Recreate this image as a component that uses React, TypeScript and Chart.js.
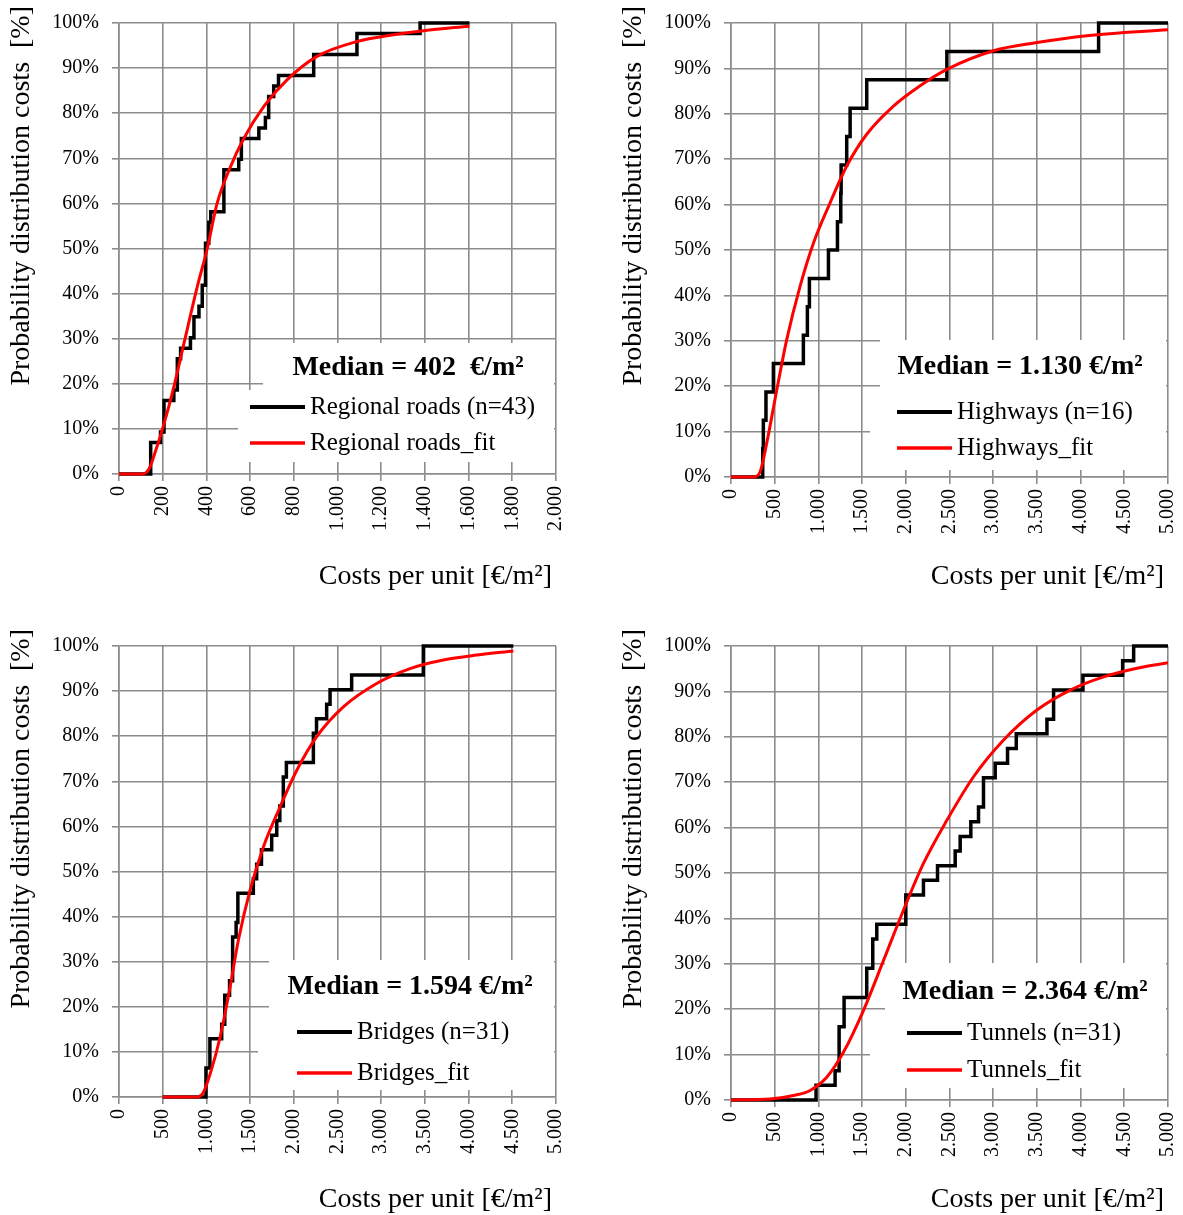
import React, { useEffect, useRef } from "react";
import { Chart, registerables } from "chart.js";

Chart.register(...registerables);

// ---------- Data ----------
// Regional roads (empirical steps)
const roadsCost = [0, 145, 190, 206, 251, 267, 282, 327, 343, 366, 381, 396, 411, 420, 480, 548, 560, 640, 670, 685, 708, 730, 891, 1089, 1378, 1604];
const roadsCum = [0, 6.98, 9.3, 16.28, 18.6, 25.58, 27.9, 30.23, 34.88, 37.2, 41.86, 51.16, 55.8, 58.14, 67.44, 69.77, 74.4, 76.7, 79.07, 83.7, 86.05, 88.37, 93.02, 97.67, 100, 100];
const roadsFitCost = [0, 107, 137, 168, 206, 251, 297, 358, 404, 449, 510, 571, 663, 769, 906, 1089, 1257, 1394, 1604];
const roadsFitCum = [0, 0, 1.1, 5.2, 11.1, 19.3, 28.9, 41.5, 50, 60, 68.1, 74.4, 81.5, 87.4, 92.6, 95.9, 97.4, 98.3, 99.3];

// Highways
const hwyCost = [0, 363, 370, 400, 485, 828, 874, 897, 1115, 1218, 1256, 1260, 1324, 1363, 1553, 2470, 4206, 5000];
const hwyCum = [0, 6.25, 12.5, 18.75, 25, 31.25, 37.5, 43.75, 50, 56.25, 62.5, 68.75, 75, 81.25, 87.5, 93.75, 100, 100];
const hwyFitCost = [0, 256, 332, 408, 523, 637, 790, 943, 1134, 1324, 1553, 1859, 2164, 2470, 3004, 3500, 4073, 5000];
const hwyFitCum = [0, 0, 1.1, 7.4, 19.1, 30.2, 42, 51.5, 60.4, 68.5, 75.5, 81.7, 86.2, 89.8, 93.9, 95.7, 97.2, 98.5];

// Bridges
const brCost = [500, 995, 1040, 1175, 1210, 1265, 1300, 1340, 1360, 1537, 1575, 1630, 1747, 1805, 1840, 1880, 1915, 2224, 2260, 2376, 2415, 2662, 3482, 4512];
const brCum = [0, 6.45, 12.9, 16.13, 22.58, 25.8, 35.48, 38.7, 45.16, 48.39, 51.6, 54.84, 58.06, 61.29, 64.5, 70.97, 74.19, 80.65, 83.87, 87.1, 90.32, 93.55, 100, 100];
const brFitCost = [500, 889, 965, 1041, 1156, 1270, 1365, 1499, 1651, 1842, 2033, 2262, 2567, 2948, 3330, 3711, 4092, 4512];
const brFitCum = [0, 0, 1, 5, 13.2, 24.3, 34.7, 45.8, 55.4, 64.3, 72.4, 79.9, 86.5, 91.7, 95, 96.9, 98, 98.9];

// Tunnels
const tunCost = [0, 973, 1191, 1237, 1294, 1553, 1622, 1668, 2000, 2202, 2363, 2565, 2622, 2744, 2832, 2889, 3023, 3164, 3264, 3615, 3691, 4027, 4481, 4607, 5000];
const tunCum = [0, 3.23, 6.45, 16.13, 22.58, 29.03, 35.48, 38.71, 45.16, 48.39, 51.61, 54.84, 58.06, 61.29, 64.52, 70.97, 74.19, 77.42, 80.65, 83.87, 90.32, 93.55, 96.77, 100, 100];
const tunFitCost = [0, 447, 714, 905, 1095, 1286, 1515, 1744, 1973, 2202, 2470, 2775, 3119, 3500, 3882, 4264, 4645, 5000];
const tunFitCum = [0, 0.2, 1, 2.1, 5, 10.5, 19.7, 30.7, 41.8, 52.1, 61.6, 71.2, 79.3, 85.9, 90.3, 93.2, 95.1, 96.3];

const medians = ["Median = 402  €/m²", "Median = 1.130 €/m²", "Median = 1.594 €/m²", "Median = 2.364 €/m²"];
const seriesNames = ["Regional roads (n=43)", "Highways (n=16)", "Bridges (n=31)", "Tunnels (n=31)"];
const fitNames = ["Regional roads_fit", "Highways_fit", "Bridges_fit", "Tunnels_fit"];
const xMaxes = [2000, 5000, 5000, 5000];
const xSteps = [200, 500, 500, 500];

const yTitle = "Probability distribution costs  [%]";
const xTitle = "Costs per unit [€/m²]";

// ---------- Styling ----------
const FONT = '"Liberation Serif", "Times New Roman", Times, serif';
const GRID = "#8c8c8c";

type Panel = {
  left: number; top: number; w: number; h: number; bottom: number;
  boxes: number[][];
  medX: number; medY: number;
  lx1: number; lx2: number; tx: number; rows: number[];
};

const panels: Panel[] = [
  { left: 0, top: 0, w: 571, h: 607, bottom: 474, boxes: [[263, 343, 554, 400], [238, 390, 554, 462]], medX: 408, medY: 368, lx1: 250, lx2: 305, tx: 310, rows: [407, 443] },
  { left: 612, top: 0, w: 571, h: 607, bottom: 477, boxes: [[268, 340, 554, 392], [258, 388, 554, 470]], medX: 408, medY: 367, lx1: 285, lx2: 340, tx: 345, rows: [412, 448] },
  { left: 0, top: 623, w: 571, h: 592, bottom: 474, boxes: [[269, 337, 554, 430], [258, 392, 554, 467]], medX: 410, medY: 364, lx1: 297, lx2: 352, tx: 357, rows: [409, 450] },
  { left: 612, top: 623, w: 571, h: 592, bottom: 477, boxes: [[273, 340, 554, 431], [258, 392, 554, 465]], medX: 413, medY: 369, lx1: 295, lx2: 350, tx: 355, rows: [410, 447] },
];

const stepData = [
  [roadsCost, roadsCum], [hwyCost, hwyCum], [brCost, brCum], [tunCost, tunCum],
];
const fitData = [
  [roadsFitCost, roadsFitCum], [hwyFitCost, hwyFitCum], [brFitCost, brFitCum], [tunFitCost, tunFitCum],
];

function fmt(v: number): string {
  return String(v).replace(/\B(?=(\d{3})+(?!\d))/g, ".");
}

function toPts(xs: number[], ys: number[]) {
  return xs.map((x, i) => ({ x, y: ys[i] }));
}

function ChartPanel({ idx }: { idx: number }) {
  const ref = useRef<HTMLCanvasElement | null>(null);
  const p = panels[idx];

  useEffect(() => {
    if (!ref.current) return;
    const overlay = {
      id: "overlay" + idx,
      beforeDatasetsDraw(chart: any) {
        const ctx = chart.ctx;
        ctx.save();
        ctx.fillStyle = "#ffffff";
        for (const r of p.boxes) ctx.fillRect(r[0], r[1], r[2] - r[0], r[3] - r[1]);
        ctx.restore();
      },
      afterDraw(chart: any) {
        const ctx = chart.ctx;
        ctx.save();
        ctx.fillStyle = "#000";
        // Median
        ctx.font = `bold 28px ${FONT}`;
        ctx.textAlign = "center";
        ctx.textBaseline = "middle";
        ctx.fillText(medians[idx], p.medX, p.medY);
        // legend
        ctx.lineCap = "butt";
        ctx.strokeStyle = "#000";
        ctx.lineWidth = 4;
        ctx.beginPath();
        ctx.moveTo(p.lx1, p.rows[0]);
        ctx.lineTo(p.lx2, p.rows[0]);
        ctx.stroke();
        ctx.strokeStyle = "#ff0000";
        ctx.lineWidth = 3.3;
        ctx.beginPath();
        ctx.moveTo(p.lx1, p.rows[1]);
        ctx.lineTo(p.lx2, p.rows[1]);
        ctx.stroke();
        ctx.font = `25px ${FONT}`;
        ctx.textAlign = "left";
        ctx.fillText(seriesNames[idx], p.tx, p.rows[0]);
        ctx.fillText(fitNames[idx], p.tx, p.rows[1]);
        // Axis titles
        ctx.font = `28px ${FONT}`;
        ctx.textAlign = "right";
        ctx.fillText(xTitle, 552, 577);
        ctx.translate(22, 6);
        ctx.rotate(-Math.PI / 2);
        ctx.textAlign = "right";
        ctx.fillText(yTitle, 0, 0);
        ctx.restore();
      },
    };

    const [sx, sy] = stepData[idx];
    const [fx, fy] = fitData[idx];
    const chart = new Chart(ref.current, {
      type: "line",
      data: {
        datasets: [
          {
            label: seriesNames[idx],
            data: toPts(sx, sy),
            borderColor: "#000000",
            borderWidth: 3.5,
            pointRadius: 0,
            stepped: "before",
            fill: false,
            order: 1,
            clip: false,
          } as any,
          {
            label: fitNames[idx],
            data: toPts(fx, fy),
            borderColor: "#ff0000",
            borderWidth: 3,
            pointRadius: 0,
            cubicInterpolationMode: "monotone",
            fill: false,
            order: 0,
            clip: false,
          } as any,
        ],
      },
      options: {
        responsive: false,
        animation: false,
        layout: { padding: { left: 0, top: 23, right: p.w - 556, bottom: 0 } },
        plugins: { legend: { display: false }, tooltip: { enabled: false } },
        scales: {
          x: {
            type: "linear",
            min: 0,
            max: xMaxes[idx],
            afterFit: (s: any) => {
              s.height = p.h - p.bottom;
              s.paddingLeft = 0;
              s.paddingRight = 0;
            },
            afterBuildTicks: (s: any) => {
              const t = [];
              for (let v = 0; v <= xMaxes[idx]; v += xSteps[idx]) t.push({ value: v });
              s.ticks = t;
            },
            ticks: {
              autoSkip: false,
              minRotation: 90,
              maxRotation: 90,
              padding: 5,
              color: "#000",
              font: { family: FONT, size: 20 },
              callback: (v: any) => fmt(Number(v)),
            },
            grid: { color: GRID, lineWidth: 1.6, tickLength: 7, tickColor: GRID },
            border: { color: GRID, width: 1.6 },
          },
          y: {
            min: 0,
            max: 100,
            afterFit: (s: any) => {
              s.width = 119;
              s.paddingTop = 0;
              s.paddingBottom = 0;
            },
            ticks: {
              stepSize: 10,
              padding: 13,
              color: "#000",
              font: { family: FONT, size: 20 },
              callback: (v: any) => v + "%",
            },
            grid: { color: GRID, lineWidth: 1.6, tickLength: 7, tickColor: GRID },
            border: { color: GRID, width: 1.6 },
          },
        },
      },
      plugins: [overlay],
    } as any);
    return () => chart.destroy();
  }, [idx]);

  return (
    <canvas
      ref={ref}
      width={p.w}
      height={p.h}
      style={{ position: "absolute", left: p.left, top: p.top, width: p.w, height: p.h }}
    />
  );
}

export default function App() {
  return (
    <div style={{ position: "absolute", left: 0, top: 0, width: 1183, height: 1215, background: "#fff" }}>
      {[0, 1, 2, 3].map((i) => (
        <ChartPanel key={i} idx={i} />
      ))}
    </div>
  );
}
